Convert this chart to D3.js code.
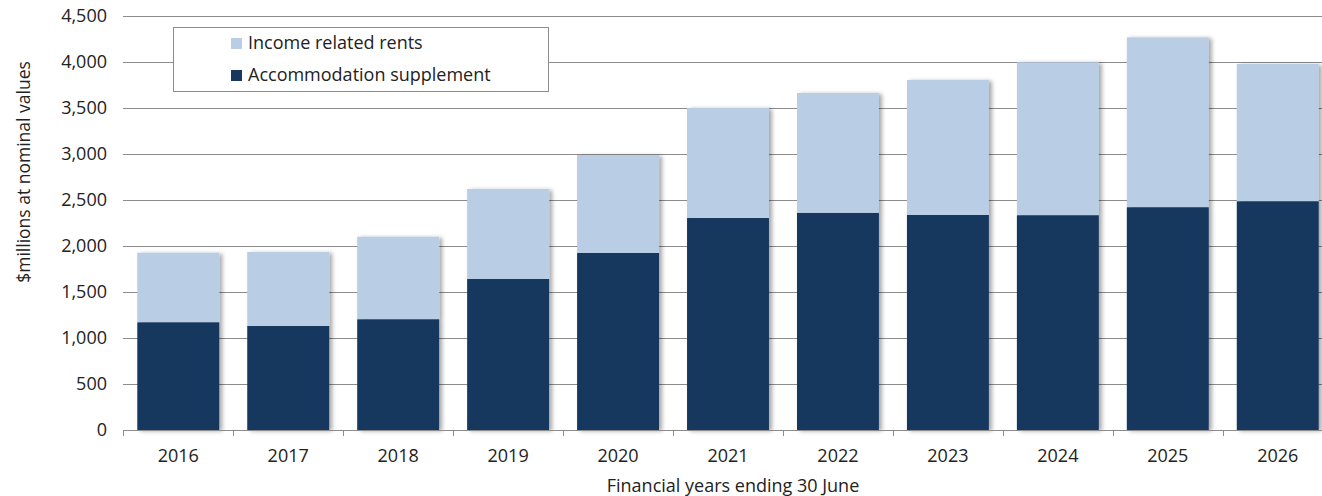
<!DOCTYPE html>
<html><head><meta charset="utf-8">
<script src="https://cdn.jsdelivr.net/npm/d3@7"></script>
<style>body{margin:0;background:#fff;} svg{display:block;font-family:"Open Sans",Lato,sans-serif;}</style>
</head><body>
<svg id="c" width="1322" height="496"></svg>
<script>
const years = ["2016","2017","2018","2019","2020","2021","2022","2023","2024","2025","2026"];
const accommodation = [1170,1130,1203,1641,1924,2304,2359,2337,2334,2421,2486];
const incomeRents = [757,805,898,979,1065,1196,1304,1467,1663,1847,1492];
const yTicks = [0,500,1000,1500,2000,2500,3000,3500,4000,4500];
const seriesNames = ["Income related rents","Accommodation supplement"];
const colors = {acc:"#17375e", irr:"#b9cde4"};

const svg = d3.select("#c");
const x = d3.scaleBand().domain(years).range([123,1333]).paddingInner(0.255).paddingOuter(0.13);
const y = d3.scaleLinear().domain([0,4500]).range([430,16]);

const defs = svg.append("defs");
const f = defs.append("filter").attr("id","sh").attr("x","-10%").attr("y","-10%").attr("width","130%").attr("height","130%");
f.append("feDropShadow").attr("dx",3).attr("dy",1).attr("stdDeviation",2).attr("flood-color","#000").attr("flood-opacity",0.35);

// gridlines
svg.append("g").selectAll("line").data(yTicks.filter(d=>d>0)).join("line")
  .attr("x1",123).attr("x2",1322).attr("y1",d=>Math.round(y(d))+0.5).attr("y2",d=>Math.round(y(d))+0.5)
  .attr("stroke","#8c8c8c").attr("stroke-width",1);

// y tick labels
svg.append("g").selectAll("text").data(yTicks).join("text")
  .attr("x",107).attr("y",d=>y(d)).attr("dy","0.35em").attr("text-anchor","end")
  .attr("font-size",18).attr("fill","#222").text(d=>d3.format(",")(d));

// bars
const data = years.map((yr,i)=>({yr, acc:accommodation[i], irr:incomeRents[i]}));
const bars = svg.append("g");
const bg = bars.selectAll("g").data(data).join("g").attr("filter","url(#sh)");
bg.append("rect").attr("x",d=>x(d.yr)).attr("width",x.bandwidth())
  .attr("y",d=>y(d.acc+d.irr)).attr("height",d=>y(d.acc)-y(d.acc+d.irr)).attr("fill",colors.irr);
bg.append("rect").attr("x",d=>x(d.yr)).attr("width",x.bandwidth())
  .attr("y",d=>y(d.acc)).attr("height",d=>y(0)-y(d.acc)).attr("fill",colors.acc);

// x axis
const xa = svg.append("g");
xa.append("line").attr("x1",123).attr("x2",1322).attr("y1",430.5).attr("y2",430.5).attr("stroke","#8c8c8c");
const step = x.step();
const bounds = d3.range(years.length+1).map(i=>123+i*step);
xa.selectAll("line.t").data(bounds).join("line").attr("class","t")
  .attr("x1",d=>Math.round(d)+0.5).attr("x2",d=>Math.round(d)+0.5).attr("y1",430).attr("y2",436).attr("stroke","#8c8c8c");
xa.selectAll("text").data(years).join("text")
  .attr("x",d=>x(d)+x.bandwidth()/2).attr("y",462).attr("text-anchor","middle")
  .attr("font-size",18).attr("fill","#222").text(d=>d);

svg.append("text").attr("x",733).attr("y",492).attr("text-anchor","middle").attr("font-size",18).attr("fill","#222")
  .text("Financial years ending 30 June");
svg.append("text").attr("transform","translate(30,172) rotate(-90)").attr("text-anchor","middle")
  .attr("font-size",17.5).attr("fill","#222").text("$millions at nominal values");

// legend
const lg = svg.append("g");
lg.append("rect").attr("x",173.5).attr("y",27.5).attr("width",375).attr("height",64).attr("fill","#fff").attr("stroke","#8c8c8c");
const lc = [colors.irr, colors.acc];
seriesNames.forEach((n,i)=>{
  lg.append("rect").attr("x",231).attr("y",38+i*32).attr("width",11).attr("height",11).attr("fill",lc[i]);
  lg.append("text").attr("x",248).attr("y",43+i*32).attr("dy","0.35em").attr("font-size",18).attr("fill","#222").text(n);
});
</script>
</body></html>
